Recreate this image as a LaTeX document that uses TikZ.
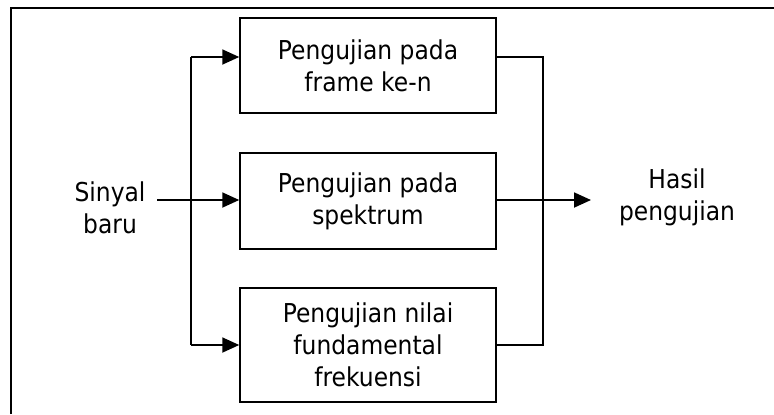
\documentclass[tikz,border=0pt]{standalone}
\usepackage{fontspec}
\setmainfont{DejaVu Sans}[FakeStretch=0.9]
\usetikzlibrary{arrows.meta,positioning}
\tikzset{
  uji/.style={draw,line width=0.75pt,minimum width=128pt,align=center,
    font=\fontsize{13}{16}\selectfont,inner sep=0pt},
  label/.style={align=center,font=\fontsize{13}{16}\selectfont},
  panah/.style={-{Triangle[length=8.5pt,width=7.5pt]},line width=0.9pt}
}
\begin{document}
\begin{tikzpicture}[x=0.5pt,y=-0.5pt]
	\useasboundingbox (0,0) rectangle (774,414);
	% bingkai
	\draw[line width=1pt] (11,414)--(11,8)--(774,8);
	% blok pengujian
	\node[uji,minimum height=47.5pt] (frame) at (368,65.5) {Pengujian pada\\frame ke-n};
	\node[uji,minimum height=48pt] (spek) at (368,201) {Pengujian pada\\spektrum};
	\node[uji,minimum height=57pt] (fund) at (368,345) {Pengujian nilai\\fundamental\\frekuensi};
	\node[label] (sinyal) at (110,208) {Sinyal\\baru};
	\node[label] (hasil) at (677,197) {Hasil\\pengujian};
	% titik cabang
	\coordinate (cabkiri) at (191,200);
	\coordinate (cabkanan) at (543,200);
	% masukan
	\draw[panah] (157,200) -- (spek.west |- cabkiri);
	\draw[line width=0.75pt] (191,57) -- (191,345);
	\draw[panah] (191,57) -- (frame.west |- 0,57);
	\draw[panah] (191,345) -- (fund.west);
	% keluaran
	\draw[line width=0.75pt] (frame.east |- 0,57) -| (cabkanan) |- (fund.east);
	\draw[panah] (spek.east |- cabkiri) -- (591,200);
\end{tikzpicture}
\end{document}
